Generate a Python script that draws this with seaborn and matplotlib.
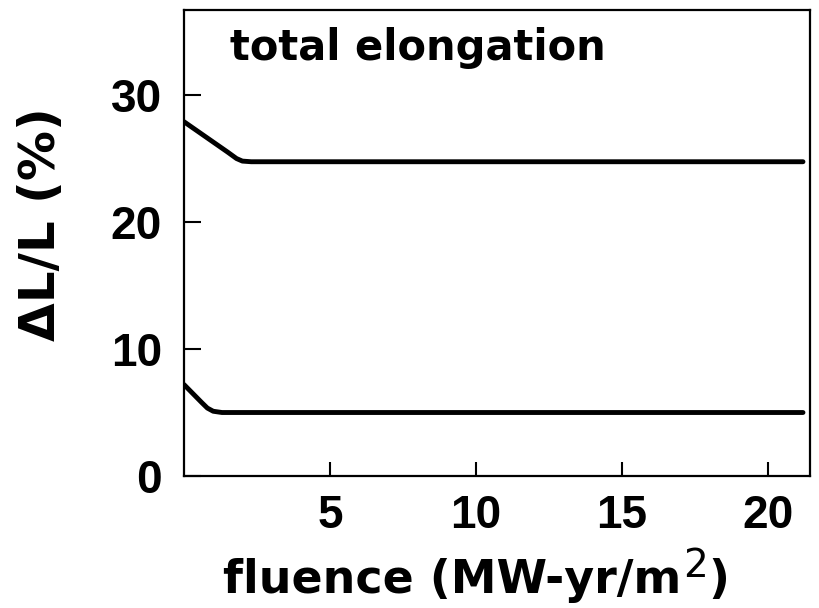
import matplotlib
matplotlib.use("Agg")
import matplotlib.pyplot as plt
import seaborn as sns
import pandas as pd

sns.set_theme(style="white")
plt.rcParams['font.family'] = ['DejaVu Sans']

# data
upper_x = [0.0, 0.5, 1.0, 1.5, 1.8, 2.0, 2.3, 21.2]
upper_y = [27.9, 27.1, 26.3, 25.5, 25.0, 24.8, 24.75, 24.75]
lower_x = [0.0, 0.3, 0.6, 0.8, 1.0, 1.3, 21.2]
lower_y = [7.2, 6.5, 5.8, 5.35, 5.1, 5.0, 5.0]
x_ticks = [5, 10, 15, 20]
y_ticks = [0, 10, 20, 30]

df = pd.concat([
    pd.DataFrame({"x": upper_x, "y": upper_y, "s": "upper"}),
    pd.DataFrame({"x": lower_x, "y": lower_y, "s": "lower"}),
])

fig = plt.figure(figsize=(8.19, 6.08), dpi=100)
ax = fig.add_axes([184/819, 1-476/608, (810-184)/819, (476-10)/608])
sns.lineplot(data=df, x="x", y="y", units="s", estimator=None, color="black",
             linewidth=3.5, ax=ax, sort=False)
ax.set_xlim(0, 21.44)
ax.set_ylim(0, 36.7)
ax.set_xticks(x_ticks)
ax.set_yticks(y_ticks)
ax.tick_params(bottom=True, left=True, direction="in", width=1.5, colors="black")
ax.tick_params(axis="y", length=12, pad=16)
ax.tick_params(axis="x", length=10, pad=13)
for lab in ax.get_xticklabels() + ax.get_yticklabels():
    lab.set_fontweight("bold")
    lab.set_fontsize(33)
    lab.set_family("Liberation Sans")
for sp in ax.spines.values():
    sp.set_color("black")
    sp.set_linewidth(1.6)
ax.set_xlabel("")
ax.set_ylabel("ΔL/L (%)", fontsize=36, fontweight="bold", color="black")
ax.yaxis.set_label_coords(-0.19, 0.541)

# x label built from pieces so the superscript is full-size like the reference
t1 = fig.text(223/819, 1-593/608, "fluence (MW-yr/m", fontsize=33,
              fontweight="bold", va="baseline", ha="left", color="black")
t2 = ax.annotate("2", xy=(1, 0), xycoords=t1, xytext=(1, 13),
                 textcoords="offset points", fontsize=28, va="bottom",
                 ha="left", color="black")
t3 = ax.annotate(")", xy=(1, 0), xycoords=(t2, t1), xytext=(1, 0),
                 textcoords="offset points", fontsize=33, fontweight="bold",
                 va="bottom", ha="left", color="black", annotation_clip=False)
t2.set_annotation_clip(False)

ax.text(0.073, 0.893, "total elongation", transform=ax.transAxes, fontsize=30,
        fontweight="bold", va="baseline", ha="left", color="black")
fig.savefig("out.png", dpi=100)
